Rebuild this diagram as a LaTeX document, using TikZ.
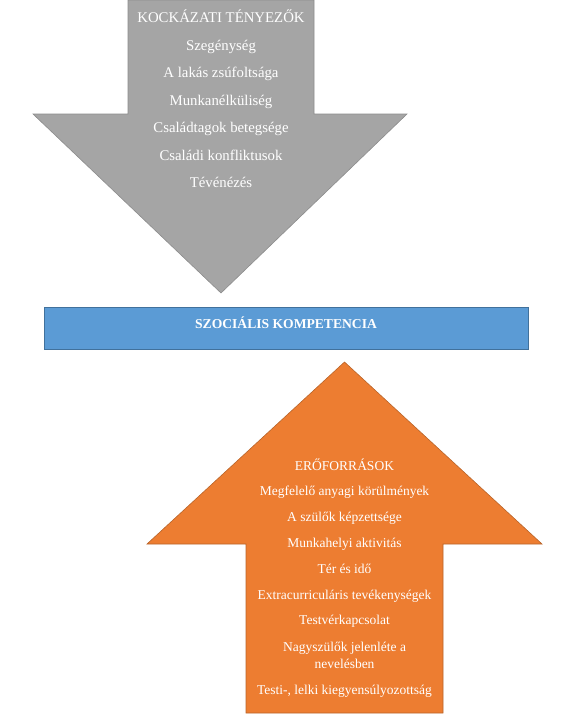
\documentclass[tikz,border=0pt]{standalone}
\usepackage{fontspec}
\setmainfont{Liberation Serif}
\definecolor{riskfill}{HTML}{A5A5A5}
\definecolor{riskline}{HTML}{8C8C8C}
\definecolor{barfill}{HTML}{5B9BD5}
\definecolor{barline}{HTML}{41719C}
\definecolor{resfill}{HTML}{ED7D31}
\definecolor{resline}{HTML}{B8642A}
\tikzset{
  riskarrow/.style={fill=riskfill, draw=riskline, line width=0.6pt, line join=miter},
  resarrow/.style={fill=resfill, draw=resline, line width=0.6pt, line join=miter},
  barbox/.style={fill=barfill, draw=barline, line width=0.8pt},
  risktext/.style={text=white, font=\fontsize{14.8}{17}\selectfont, inner sep=0pt, anchor=base, yshift=-5pt},
  itemtext/.style={text=white, font=\fontsize{13.5}{15}\selectfont, inner sep=0pt, anchor=base, yshift=-4.5pt},
  bartext/.style={text=white, font=\fontsize{13.6}{15}\selectfont\bfseries, inner sep=0pt, anchor=base, yshift=-4.5pt},
}
\begin{document}
\begin{tikzpicture}[x=1pt,y=-1pt]
\useasboundingbox (0,0) rectangle (570,724);
% top (risk) arrow
\draw[riskarrow] (128,0) -- (314,0) -- (314,114) -- (407,114) -- (221,293) -- (33,114) -- (128,114) -- cycle;
% bar
\draw[barbox] (44,307) rectangle (528,349);
\node[bartext] (bar) at (286,324) {SZOCIÁLIS KOMPETENCIA};
% bottom (resources) arrow
\draw[resarrow] (246,713) -- (443,713) -- (443,544) -- (542,544) -- (344.5,362) -- (147,544) -- (246,544) -- cycle;
% risk texts
\node[risktext] (r0) at (221,17) {KOCKÁZATI TÉNYEZŐK};
\node[risktext] (r1) at (221,45) {Szegénység};
\node[risktext] (r2) at (221,72) {A lakás zsúfoltsága};
\node[risktext] (r3) at (221,100) {Munkanélküliség};
\node[risktext] (r4) at (221,127) {Családtagok betegsége};
\node[risktext] (r5) at (221,155) {Családi konfliktusok};
\node[risktext] (r6) at (221,182) {Tévénézés};
% resource texts
\node[itemtext] (s0) at (344.5,466) {ERŐFORRÁSOK};
\node[itemtext] (s1) at (344.5,491) {Megfelelő anyagi körülmények};
\node[itemtext] (s2) at (344.5,517) {A szülők képzettsége};
\node[itemtext] (s3) at (344.5,543) {Munkahelyi aktivitás};
\node[itemtext] (s4) at (344.5,569) {Tér és idő};
\node[itemtext] (s5) at (344.5,595) {Extracurriculáris tevékenységek};
\node[itemtext] (s6) at (344.5,620) {Testvérkapcsolat};
\node[itemtext] (s7) at (344.5,647) {Nagyszülők jelenléte a};
\node[itemtext] (s8) at (344.5,664) {nevelésben};
\node[itemtext] (s9) at (344.5,690) {Testi-, lelki kiegyensúlyozottság};
\end{tikzpicture}
\end{document}
